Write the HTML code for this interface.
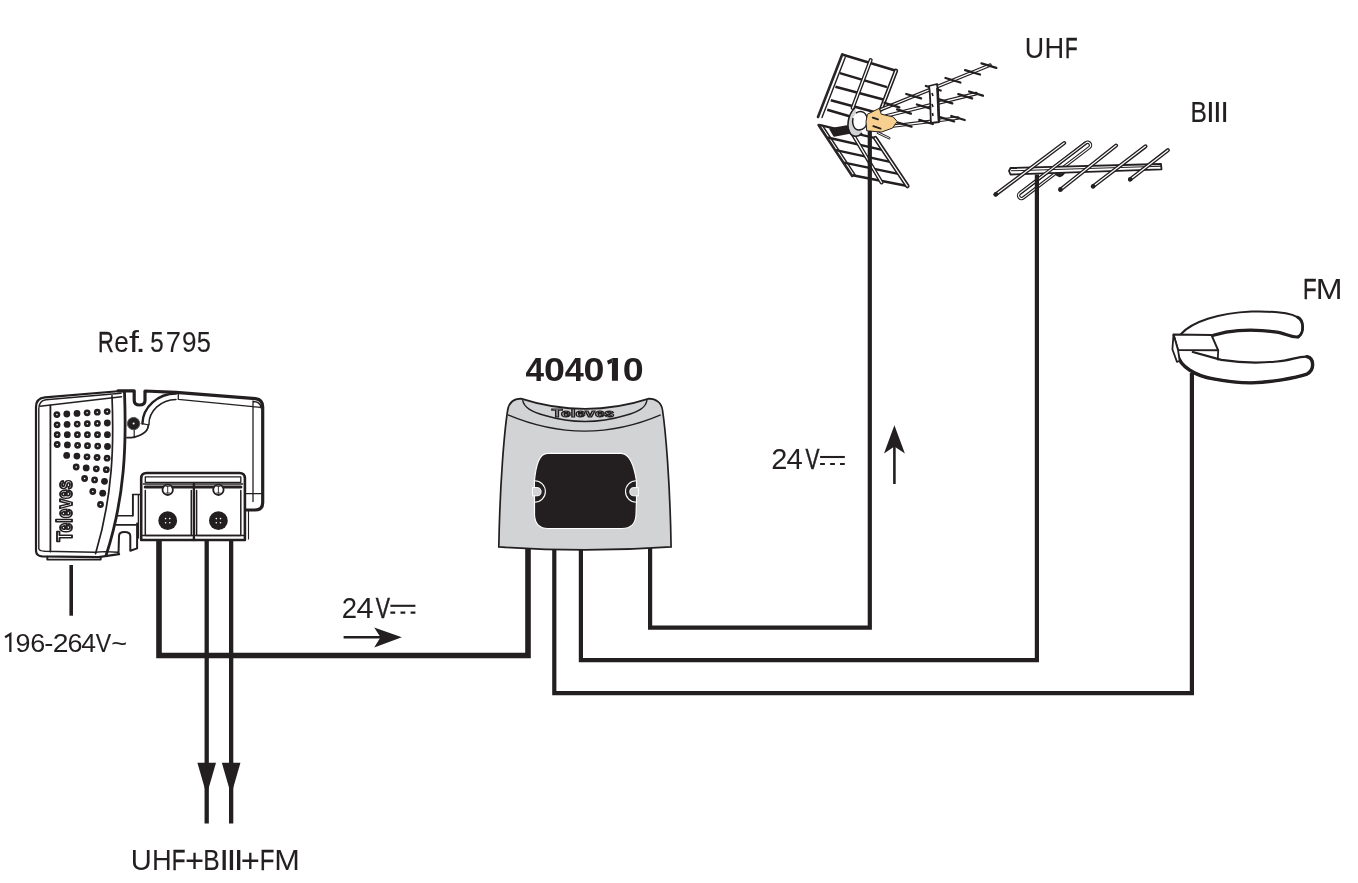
<!DOCTYPE html>
<html><head><meta charset="utf-8"><style>
html,body{margin:0;padding:0;background:#fff;width:1358px;height:883px;overflow:hidden}
svg{display:block;filter:blur(0.4px)}
text{font-family:"Liberation Sans",sans-serif;fill:#231f20}
</style></head><body>
<svg width="1358" height="883" viewBox="0 0 1358 883">


<g id="amp5795" fill="none" stroke="#231f20" stroke-linejoin="round" stroke-linecap="round">
  <!-- left front panel -->
  <path d="M125 391.2 L121 391 L45 397.3 Q36 398.3 36 407 V551 Q36.3 556 42 556.4 L98.5 557.1 L119.1 554.1" stroke-width="2.2"/>
  <path d="M121 393.2 L46 399.8 Q38.8 400.8 38.8 409 V548.5 Q39 551 45 551.3 L94.8 552.3 L104.4 551.6 L118.4 552.3" stroke-width="1.4"/>
  <path d="M40 406.3 L121.5 396.8" stroke-width="1.5"/>
  <path d="M50.4 405.5 V551.5" stroke-width="1.8"/>
  <path d="M112 395.8 C114 445 113 495 95.6 553.6" stroke-width="1.7"/>
  <path d="M124.5 392 C126.5 445 125 497 106.2 555" stroke-width="2.8"/>
  <path d="M47.3 556.6 V559.6 H100.7 V557" stroke-width="1.9"/>
  
  <!-- bracket / foot at bottom of body -->
  <path d="M118.5 553.4 L119 536 Q119 532 124.4 532 Q130.3 532 130.3 536 V550.7 L137.1 548.4 V523.5" stroke-width="2"/>
  <path d="M116.3 524.9 H135.7 M117.6 515.8 H133 V494.5 H143" stroke-width="1.6"/>
  <!-- right body top -->
  <path d="M118 390.8 H134.2 V400.5 Q134.2 405 139.6 405 Q145 405 145 400.5 V391 L176 392.3 L255.5 398.6 Q262.7 399.6 262.7 407 V502.8 Q262.7 510 255 510 H245" stroke-width="3.2"/>
  <path d="M178.3 393.5 V399.4 L261 407.4 M253 401 V501.5 M253 401.5 Q260.5 401.5 261 408" stroke-width="1.3"/>
  
  <path d="M243.1 493.7 H262" stroke-width="1.3"/>
  <path d="M248.5 510 V539" stroke-width="1.1"/>
  <!-- arc feature -->
  <path d="M142.4 423.6 A34 31 0 0 1 176 393.5" stroke-width="2.4"/>
  <path d="M148.9 424.4 A27.5 25 0 0 1 176 399.4" stroke-width="1.5"/>
  <path d="M142.4 423.6 L148.9 425" stroke-width="1.2"/>
  <path d="M148.3 425.4 A21 12.5 0 0 1 127 437.7" stroke-width="1.8"/>
  <path d="M134.2 429.5 V437.7" stroke-width="1.2"/>
  <circle cx="133.6" cy="423.6" r="6.2" fill="#231f20" stroke="#555" stroke-width="1"/>
  <circle cx="133.6" cy="423.6" r="1" fill="#fff" stroke="none"/>
  <!-- connector box -->
  <path d="M141.2 540 V478.5 Q141.2 473 146.7 473 H239.4 Q244.9 473 244.9 478.5 V540 Z" fill="#fff" stroke-width="2.6"/>
  <path d="M145.3 482.4 V476.8 H240.8 V482.4 Z" stroke-width="1.3"/>
  <path d="M143.3 484 H242.6" stroke-width="1.4"/>
  <path d="M145.3 487 H240.8" stroke-width="3.2"/>
  <path d="M145.3 490.6 V535.4 H191.3 V490.6" stroke-width="1.5"/>
  <path d="M196.6 490.6 V535.4 H240.8 V490.6" stroke-width="1.5"/>
  <path d="M193.9 484 V540" stroke-width="2.4"/>
  <path d="M141.2 535.4 H244.9" stroke-width="1.5"/>
  <path d="M138.4 495 V538" stroke-width="1.4"/>
  <path d="M132.6 494.5 V515.8" stroke-width="1.3"/>
  <circle cx="167.7" cy="489.8" r="5.2" fill="#fff" stroke-width="1.8"/>
  <circle cx="218.4" cy="489.8" r="5.2" fill="#fff" stroke-width="1.8"/>
  <path d="M167.7 486.3 V493 M166 486.3 H169.4 M166 493 H169.4 M218.4 486.3 V493 M216.7 486.3 H220.1 M216.7 493 H220.1" stroke-width="0.9"/>
  <circle cx="167.7" cy="520.7" r="9.4" fill="#231f20" stroke="none"/>
  <circle cx="218.4" cy="520.7" r="9.4" fill="#231f20" stroke="none"/>
  <g fill="#fff" stroke="none">
    <circle cx="165.6" cy="518.6" r="0.8"/><circle cx="169.8" cy="518.6" r="0.8"/><circle cx="165.6" cy="522.8" r="0.8"/><circle cx="169.8" cy="522.8" r="0.8"/>
    <circle cx="216.3" cy="518.6" r="0.8"/><circle cx="220.5" cy="518.6" r="0.8"/><circle cx="216.3" cy="522.8" r="0.8"/><circle cx="220.5" cy="522.8" r="0.8"/>
  </g>
  <!-- Televes vertical logo -->
  <text transform="translate(71.6 541.8) rotate(-90)" x="0" y="0" font-size="22.5" font-weight="bold" textLength="62" lengthAdjust="spacingAndGlyphs" style="fill:#fff;stroke:#231f20;stroke-width:1.9">Televes</text>
  <g fill="#231f20" stroke="none">
    <circle cx="56.9" cy="414.6" r="3.4"/>
    <circle cx="56.9" cy="414.6" r="0.8" fill="#fff"/>
    <circle cx="66.8" cy="414.0" r="3.4"/>
    <circle cx="77.0" cy="413.4" r="3.4"/>
    <circle cx="87.1" cy="412.8" r="3.4"/>
    <circle cx="87.1" cy="412.8" r="0.8" fill="#fff"/>
    <circle cx="97.3" cy="412.2" r="3.4"/>
    <circle cx="97.3" cy="412.2" r="0.8" fill="#fff"/>
    <circle cx="107.2" cy="411.6" r="3.4"/>
    <circle cx="107.2" cy="411.6" r="0.8" fill="#fff"/>
    <circle cx="57.1" cy="424.8" r="3.4"/>
    <circle cx="57.1" cy="424.8" r="0.8" fill="#fff"/>
    <circle cx="67.1" cy="424.4" r="3.4"/>
    <circle cx="77.2" cy="424.1" r="3.4"/>
    <circle cx="77.2" cy="424.1" r="0.8" fill="#fff"/>
    <circle cx="87.3" cy="423.7" r="3.4"/>
    <circle cx="87.3" cy="423.7" r="0.8" fill="#fff"/>
    <circle cx="97.4" cy="423.4" r="3.4"/>
    <circle cx="97.4" cy="423.4" r="0.8" fill="#fff"/>
    <circle cx="107.3" cy="423.0" r="3.4"/>
    <circle cx="57.2" cy="434.7" r="3.4"/>
    <circle cx="57.2" cy="434.7" r="0.8" fill="#fff"/>
    <circle cx="67.3" cy="434.7" r="3.4"/>
    <circle cx="77.4" cy="434.7" r="3.4"/>
    <circle cx="77.4" cy="434.7" r="0.8" fill="#fff"/>
    <circle cx="87.4" cy="434.7" r="3.4"/>
    <circle cx="87.4" cy="434.7" r="0.8" fill="#fff"/>
    <circle cx="97.5" cy="434.7" r="3.4"/>
    <circle cx="97.5" cy="434.7" r="0.8" fill="#fff"/>
    <circle cx="107.4" cy="434.7" r="3.4"/>
    <circle cx="57.2" cy="444.5" r="3.4"/>
    <circle cx="57.2" cy="444.5" r="0.8" fill="#fff"/>
    <circle cx="67.4" cy="444.9" r="3.4"/>
    <circle cx="77.6" cy="445.3" r="3.4"/>
    <circle cx="77.6" cy="445.3" r="0.8" fill="#fff"/>
    <circle cx="87.5" cy="445.7" r="3.4"/>
    <circle cx="87.5" cy="445.7" r="0.8" fill="#fff"/>
    <circle cx="97.7" cy="446.1" r="3.4"/>
    <circle cx="97.7" cy="446.1" r="0.8" fill="#fff"/>
    <circle cx="107.5" cy="446.5" r="3.4"/>
    <circle cx="66.7" cy="455.4" r="3.4"/>
    <circle cx="76.9" cy="456.1" r="3.4"/>
    <circle cx="87.0" cy="456.8" r="3.4"/>
    <circle cx="87.0" cy="456.8" r="0.8" fill="#fff"/>
    <circle cx="97.1" cy="457.5" r="3.4"/>
    <circle cx="97.1" cy="457.5" r="0.8" fill="#fff"/>
    <circle cx="107.1" cy="458.2" r="3.4"/>
    <circle cx="107.1" cy="458.2" r="0.8" fill="#fff"/>
    <circle cx="76.2" cy="467.0" r="3.4"/>
    <circle cx="76.2" cy="467.0" r="0.8" fill="#fff"/>
    <circle cx="86.2" cy="467.9" r="3.4"/>
    <circle cx="96.3" cy="468.8" r="3.4"/>
    <circle cx="96.3" cy="468.8" r="0.8" fill="#fff"/>
    <circle cx="106.3" cy="469.7" r="3.4"/>
    <circle cx="106.3" cy="469.7" r="0.8" fill="#fff"/>
    <circle cx="84.6" cy="478.5" r="3.4"/>
    <circle cx="84.6" cy="478.5" r="0.8" fill="#fff"/>
    <circle cx="94.6" cy="479.9" r="3.4"/>
    <circle cx="94.6" cy="479.9" r="0.8" fill="#fff"/>
    <circle cx="104.5" cy="481.3" r="3.4"/>
    <circle cx="92.8" cy="491.5" r="3.4"/>
    <circle cx="92.8" cy="491.5" r="0.8" fill="#fff"/>
    <circle cx="102.7" cy="493.2" r="3.4"/>
    <circle cx="100.5" cy="504.5" r="3.4"/>
    <circle cx="100.5" cy="504.5" r="0.8" fill="#fff"/>
  </g>
</g>
<g id="dev404010">
  <path d="M507.7 410 C509 402.5 514 398.6 521 398.6 Q585 419.2 649 398.6 C656 398.6 661.5 403 662.5 410 C665.5 430 670 480 671.1 546.9 Q585 553 498.8 546.9 C500 480 504.5 430 507.7 410 Z" fill="#d1d3d4" stroke="#231f20" stroke-width="1.7"/>
  <path d="M522.6 400.2 C524 407 530 411.5 545 415.5 Q585 427.5 625 415.5 C640 411.5 646 407 647 400" fill="none" stroke="#231f20" stroke-width="1.4"/>
  <path d="M508 414.9 Q585 447.3 660.7 414.9" fill="none" stroke="#231f20" stroke-width="1.4"/>
  <path d="M547.8 453.4 H621 C630 453.4 634 465 636.5 481 V500 L636 515 C635.5 524 630 528.5 622 528.5 H548 C540 528.5 535 524 534.5 515 V500 L534.4 481 C536 465 539 453.4 547.8 453.4 Z" fill="#231f20" stroke="#fff" stroke-width="1.2"/>
  <path d="M534.6 480.7 A10.8 10.8 0 0 1 534.6 502.3" fill="none" stroke="#fff" stroke-width="1.1"/>
  <path d="M636.3 480.7 A10.8 10.8 0 0 0 636.3 502.3" fill="none" stroke="#fff" stroke-width="1.1"/>
  <path d="M532.5 487.6 H537 A4.1 4.1 0 0 1 537 495.8 H532.5 Z" fill="#d1d3d4" stroke="#fff" stroke-width="1"/>
  <path d="M638.4 487.6 H633.9 A4.1 4.1 0 0 0 633.9 495.8 H638.4 Z" fill="#d1d3d4" stroke="#fff" stroke-width="1"/>
  <text x="551.8" y="417.3" font-size="11.5" font-weight="bold" textLength="62.5" lengthAdjust="spacingAndGlyphs" style="fill:#f2f2f2;stroke:#231f20;stroke-width:1.1">Televes</text>
</g>

<g id="uhf" fill="none" stroke-linejoin="round">
  <g stroke="#231f20">
    <path d="M839.9 73.1 L887 87.1 M835.4 86.7 L884.3 99.8 M830.8 100.3 L880 113.5 M827.2 109.8 L852 117" stroke-width="2.5"/>
    <path d="M843 54.8 L896 70.8" stroke-width="2.5"/>
  </g>
  <path d="M842.3 54.3 L818 117" stroke="#2a2627" stroke-width="2.6" stroke-linecap="round"/>
  <path d="M845.2 57.5 L822 117.5" stroke="#231f20" stroke-width="1.4" stroke-linecap="round"/>
  <path d="M896 70.8 L881 109.5" stroke="#231f20" stroke-width="4.4" stroke-linecap="round"/><path d="M896 70.8 L881 109.5" stroke="#fff" stroke-width="1.2" stroke-linecap="round"/>
  <path d="M870.7 60 L852.6 108" stroke="#231f20" stroke-width="4.0" stroke-linecap="round"/><path d="M870.7 60 L852.6 108" stroke="#fff" stroke-width="1.3" stroke-linecap="round"/>
  <path d="M819.1 124.9 L875.2 138.1 M827.5 137.5 L883.2 150.1 M835.9 150.1 L891.3 162.1 M844.2 162.6 L899.4 174.1 M852.6 175.2 L907.4 186.1 " stroke="#231f20" stroke-width="2.5"/>
  <path d="M818.6 125 L852.2 176" stroke="#2a2627" stroke-width="2.6" stroke-linecap="round"/>
  <path d="M822.5 125.5 L855 174.6" stroke="#231f20" stroke-width="1.4" stroke-linecap="round"/>
  <path d="M875.2 138.1 L907.4 186.1" stroke="#231f20" stroke-width="4.4" stroke-linecap="round"/><path d="M875.2 138.1 L907.4 186.1" stroke="#fff" stroke-width="1.2" stroke-linecap="round"/>
  <path d="M853.5 135.4 L881.6 182.5" stroke="#231f20" stroke-width="4.0" stroke-linecap="round"/><path d="M853.5 135.4 L881.6 182.5" stroke="#fff" stroke-width="1.3" stroke-linecap="round"/>
  <path d="M881 109.5 L990 65.2" stroke="#231f20" stroke-width="3.6" stroke-linecap="round"/><path d="M881 109.5 L990 65.2" stroke="#fff" stroke-width="1.3" stroke-linecap="round"/><path d="M886 116 L976 93.6" stroke="#231f20" stroke-width="3.8" stroke-linecap="round"/><path d="M886 116 L976 93.6" stroke="#fff" stroke-width="1.3" stroke-linecap="round"/><path d="M887 126.8 L958 118" stroke="#231f20" stroke-width="3.4" stroke-linecap="round"/><path d="M887 126.8 L958 118" stroke="#fff" stroke-width="1.3" stroke-linecap="round"/>
  <path d="M884.5 102.8 L899.3 107.3" stroke="#231f20" stroke-width="2.3" stroke-linecap="round"/><path d="M906.3 94.0 L921.1 98.4" stroke="#231f20" stroke-width="2.3" stroke-linecap="round"/><path d="M925.9 86.0 L940.7 90.5" stroke="#231f20" stroke-width="2.3" stroke-linecap="round"/><path d="M945.5 78.0 L960.4 82.5" stroke="#231f20" stroke-width="2.3" stroke-linecap="round"/><path d="M965.1 70.1 L980.0 74.5" stroke="#231f20" stroke-width="2.3" stroke-linecap="round"/><path d="M981.5 63.4 L996.3 67.9" stroke="#231f20" stroke-width="2.3" stroke-linecap="round"/><path d="M897.1 109.4 L910.9 113.6" stroke="#231f20" stroke-width="2.3" stroke-linecap="round"/><path d="M916.9 104.5 L930.7 108.7" stroke="#231f20" stroke-width="2.3" stroke-linecap="round"/><path d="M938.5 99.1 L952.3 103.3" stroke="#231f20" stroke-width="2.3" stroke-linecap="round"/><path d="M958.3 94.2 L972.1 98.4" stroke="#231f20" stroke-width="2.3" stroke-linecap="round"/><path d="M969.1 91.5 L982.9 95.7" stroke="#231f20" stroke-width="2.3" stroke-linecap="round"/><path d="M898.0 122.6 L911.5 126.6" stroke="#231f20" stroke-width="2.3" stroke-linecap="round"/><path d="M919.3 119.9 L932.8 124.0" stroke="#231f20" stroke-width="2.3" stroke-linecap="round"/><path d="M940.6 117.3 L954.1 121.3" stroke="#231f20" stroke-width="2.3" stroke-linecap="round"/><path d="M951.3 116.0 L964.7 120.0" stroke="#231f20" stroke-width="2.3" stroke-linecap="round"/>
  <path d="M929 86 C931 98 930 112 931 123 L939 122 C938 110 939 96 937 84 Z" fill="#fff" stroke="#231f20" stroke-width="1.8"/>
  <path d="M937.5 88 L939 121" stroke="#231f20" stroke-width="2.6"/>
  <path d="M932 93 L933 96 M932 104 L933 107 M932.5 113 L933 116" stroke="#231f20" stroke-width="1.6"/>
  <path d="M855 108 C850 112 846 122 849 132 C852 137 858 138 862 133" fill="#d1d3d4" stroke="#231f20" stroke-width="1.6"/>
  <path d="M856 113 C861 110 866 112 867 118 C868 125 865 130 858 130 C853 129 852 122 853 118" fill="#fff" stroke="#231f20" stroke-width="1.5"/>
  <path d="M830 129 L847 126 L850 133 L834 136 Z" fill="#231f20" stroke="#231f20" stroke-width="1.5"/>
  <path d="M867.4 114.2 L879.3 108.3 L881.3 114.2 L893.2 116.9 L897.2 121.5 L892.5 128.1 L881.3 132.1 L866.7 130.8 L866 121.5 Z" fill="#f7cf8e" stroke="#231f20" stroke-width="1"/>
  <path d="M872.7 117.6 L878 119.4 M873.3 126.2 L880.6 128.6" stroke="#231f20" stroke-width="1.8" stroke-linecap="round"/>
  <path d="M878 132.8 L889.2 138.1" stroke="#231f20" stroke-width="2.6" stroke-linecap="round"/><path d="M878 132.8 L889.2 138.1" stroke="#fff" stroke-width="0.9" stroke-linecap="round"/>
</g>

<g id="biii" fill="none" stroke-linejoin="round">
  <path d="M1023.3 197.9 L1089.4 147.5 A2.9 2.9 0 0 0 1085.8 142.9 L1019.7 193.3 A2.9 2.9 0 0 0 1023.3 197.9 Z" stroke="#231f20" stroke-width="3.4"/>
  <path d="M1023.3 197.9 L1089.4 147.5 A2.9 2.9 0 0 0 1085.8 142.9 L1019.7 193.3 A2.9 2.9 0 0 0 1023.3 197.9 Z" stroke="#fff" stroke-width="1.1"/>
  <path d="M1010.5 168 L1161 164 L1161.5 169.4 L1010.5 174.5 L1009 171 Z" fill="#fff" stroke="#231f20" stroke-width="1.8"/>
  <path d="M1011 170.8 L1161 166.2" stroke="#231f20" stroke-width="1.1"/>
  <path d="M1055.5 173.6 Q1060 179 1064.2 173" fill="#231f20" stroke="#231f20" stroke-width="2"/>
  <path d="M1085.8 142.9 L1019.7 193.3" stroke="#231f20" stroke-width="3.4"/>
  <path d="M1085.8 142.9 L1019.7 193.3" stroke="#fff" stroke-width="1.1"/>
  <path d="M995.5 194.6 L1064.2 143" stroke="#231f20" stroke-width="4" stroke-linecap="round"/><path d="M995.5 194.6 L1064.2 143" stroke="#fff" stroke-width="1.20" stroke-linecap="round"/>
  <path d="M1060.3 189.7 L1116.1 145.5" stroke="#231f20" stroke-width="4" stroke-linecap="round"/><path d="M1060.3 189.7 L1116.1 145.5" stroke="#fff" stroke-width="1.20" stroke-linecap="round"/>
  <path d="M1092.9 186.5 L1145.5 146.3" stroke="#231f20" stroke-width="4" stroke-linecap="round"/><path d="M1092.9 186.5 L1145.5 146.3" stroke="#fff" stroke-width="1.20" stroke-linecap="round"/>
  <path d="M1130 179.5 L1167.9 150.2" stroke="#231f20" stroke-width="4" stroke-linecap="round"/><path d="M1130 179.5 L1167.9 150.2" stroke="#fff" stroke-width="1.20" stroke-linecap="round"/>
  <g fill="#231f20">
    <circle cx="995.9" cy="194.3" r="2.3"/><circle cx="1060.5" cy="189.4" r="2.3"/><circle cx="1093.2" cy="186.2" r="2.3"/><circle cx="1130.3" cy="179.2" r="2.3"/>
  </g>
</g>
<g id="fm" stroke="#231f20" stroke-linejoin="round" stroke-linecap="round">
  <path d="M1181 334 C1192 322 1218 313 1251.5 311.5 C1272 311 1290 313 1297.4 317.1 C1304 320 1304.5 333 1298.2 336.9 C1292 338 1284 333 1276.8 332.1 C1262 330 1245 329 1226 332.1 L1213.4 335.3" fill="#fff" stroke-width="2"/>
  <path d="M1298.2 336.9 C1292 338 1284 333 1276.8 332.1 C1262 330 1245 329 1226 332.1 L1213.4 335.3" fill="none" stroke-width="3.2"/>
  <path d="M1297.4 317.1 C1304 320 1304.5 333 1298.2 336.9" fill="none" stroke-width="2.8"/>
  <path d="M1177.7 355.1 C1180 366 1195 376 1213.4 378.9 C1230 382 1245 383 1251.5 382.9 C1270 382.5 1295 378 1307 374.1 C1315 370 1314 358 1307 356.7 C1298 356 1290 361 1276.8 361.5 C1262 363 1245 363.5 1221.3 359.9 L1192.8 352" fill="#fff" stroke-width="2.2"/>
  <path d="M1177.7 355.1 C1180 366 1195 376 1213.4 378.9 C1230 382 1245 383 1251.5 382.9 C1270 382.5 1295 378 1307 374.1 C1315 370 1314 358 1307 356.7" fill="none" stroke-width="3.4"/>
  <path d="M1173.5 334.6 L1211.4 334.9 L1218.2 350.3 L1178 349.9 Z" fill="#fff" stroke-width="2"/>
  <path d="M1173.5 334.6 L1172.4 349.3 L1176.9 361.8 L1179.7 361 L1178 349.9 Z" fill="#fff" stroke-width="1.8"/>
  <path d="M1218.2 350.3 L1217.8 359.5" fill="none" stroke-width="1.8"/>
</g>
<g id="wires" fill="none" stroke="#231f20" stroke-linejoin="miter" stroke-linecap="butt">
  <path d="M159 541 V655.55 H528 V548" stroke-width="5.6"/>
  <path d="M554.3 550 V693.2 H1191.9 V373" stroke-width="4.2"/>
  <path d="M580.9 550 V660.1 H1036.9 V174.5" stroke-width="4.2"/>
  <path d="M650.1 548 V627.7 H869.8 V131" stroke-width="4.2"/>
  <path d="M206.7 540 V823.4" stroke-width="4.3"/>
  <path d="M231.15 540 V823.4" stroke-width="4.3"/>
  <path d="M71.2 565 V615.7" stroke-width="3.6"/>
  <path d="M343.6 637.3 H382" stroke-width="2.6"/>
  <path d="M894.4 484 V446" stroke-width="2.6"/>
</g>
<g id="arrowheads" fill="#231f20">
  <path d="M197.4 762.7 H216 L206.7 795 Z"/>
  <path d="M221.85 762.7 H240.45 L231.15 795 Z"/>
  <path d="M401.8 637.2 L374.2 627.6 L380.5 637.2 L374.2 647.4 Z"/>
  <path d="M894.4 425.3 L884 453.6 L894.4 446.5 L904.9 453.6 Z"/>
</g>
<g id="dc" fill="none" stroke="#231f20" stroke-width="2.1">
  <path d="M390.4 605.8 H415.4"/>
  <path d="M390.4 612.6 H395.2 M400.5 612.6 H405.3 M410.6 612.6 H415.4"/>
  <path d="M820.1 457 H844.8"/>
  <path d="M820.1 464 H824.9 M830.1 464 H834.9 M840 464 H844.8"/>
</g>
<g id="labels">
  <text transform="translate(98.00 351.60) scale(0.741 1)" font-size="29.43" style="stroke:#231f20;stroke-width:0.41">R</text>
  <text transform="translate(114.23 351.60) scale(0.892 1)" font-size="29.43" style="stroke:#231f20;stroke-width:0.09">e</text>
  <text transform="translate(128.99 351.60) scale(1.217 1)" font-size="29.43">f</text>
  <text transform="translate(135.06 351.60) scale(1.356 1)" font-size="29.43">.</text>
  <text transform="translate(150.18 351.60) scale(0.817 1)" font-size="29.43" style="stroke:#231f20;stroke-width:0.23">5</text>
  <text transform="translate(165.66 351.60) scale(0.929 1)" font-size="29.43">7</text>
  <text transform="translate(181.90 351.60) scale(0.887 1)" font-size="29.43" style="stroke:#231f20;stroke-width:0.10">9</text>
  <text transform="translate(196.76 351.60) scale(0.862 1)" font-size="29.43" style="stroke:#231f20;stroke-width:0.15">5</text>
  <text transform="translate(525.62 380.80) scale(1.008 1)" font-size="33.15" font-weight="bold">4</text>
  <text transform="translate(543.96 380.80) scale(1.136 1)" font-size="33.15" font-weight="bold">0</text>
  <text transform="translate(564.72 380.80) scale(1.035 1)" font-size="33.15" font-weight="bold">4</text>
  <text transform="translate(583.54 380.80) scale(1.136 1)" font-size="33.15" font-weight="bold">0</text>
  <path d="M611.94 380.8 V358.1 H617.95 V380.8 Z M612.2 358.2 L607 360.8 L608.2 364.5 L612.2 362.8 Z" fill="#231f20"/>
  <text transform="translate(622.66 380.80) scale(1.135 1)" font-size="33.15" font-weight="bold">0</text>
  <path d="M10.34 651.90 V634.00 L5.09 637.26" fill="none" stroke="#231f20" stroke-width="2.3" stroke-linejoin="miter"/>
  <text transform="translate(15.49 651.90) scale(1.028 1)" font-size="26.21">9</text>
  <text transform="translate(30.22 651.90) scale(1.029 1)" font-size="26.21">6</text>
  <text transform="translate(44.25 651.90) scale(1.047 1)" font-size="26.21">-</text>
  <text transform="translate(52.66 651.90) scale(1.082 1)" font-size="26.21">2</text>
  <text transform="translate(67.56 651.90) scale(1.029 1)" font-size="26.21">6</text>
  <text transform="translate(81.24 651.90) scale(1.015 1)" font-size="26.21">4</text>
  <text transform="translate(95.68 651.90) scale(0.882 1)" font-size="26.21" style="stroke:#231f20;stroke-width:0.11">V</text>
  <text transform="translate(111.26 651.90) scale(1.035 1)" font-size="26.21">~</text>
  <text transform="translate(341.87 618.00) scale(0.932 1)" font-size="29.50">2</text>
  <text transform="translate(356.55 618.00) scale(1.039 1)" font-size="29.50">4</text>
  <text transform="translate(375.72 618.00) scale(0.722 1)" font-size="29.50" style="stroke:#231f20;stroke-width:0.47">V</text>
  <text transform="translate(771.26 468.90) scale(0.982 1)" font-size="29.50">2</text>
  <text transform="translate(786.43 468.90) scale(0.991 1)" font-size="29.50">4</text>
  <text transform="translate(805.45 468.90) scale(0.710 1)" font-size="29.50" style="stroke:#231f20;stroke-width:0.50">V</text>
  <text transform="translate(130.70 869.60) scale(0.984 1)" font-size="29.65">U</text>
  <text transform="translate(151.92 869.60) scale(0.921 1)" font-size="29.65">H</text>
  <text transform="translate(171.67 869.60) scale(0.759 1)" font-size="29.65" style="stroke:#231f20;stroke-width:0.36">F</text>
  <text transform="translate(185.04 872.46) scale(1.104 1.097)" font-size="29.65">+</text>
  <text transform="translate(203.27 869.60) scale(0.828 1)" font-size="29.65" style="stroke:#231f20;stroke-width:0.21">B</text>
  <text transform="translate(219.15 869.60) scale(1.197 1)" font-size="29.65">I</text>
  <text transform="translate(226.44 869.60) scale(1.197 1)" font-size="29.65">I</text>
  <text transform="translate(233.73 869.60) scale(1.197 1)" font-size="29.65">I</text>
  <text transform="translate(240.71 872.46) scale(1.104 1.097)" font-size="29.65">+</text>
  <text transform="translate(259.66 869.60) scale(0.809 1)" font-size="29.65" style="stroke:#231f20;stroke-width:0.25">F</text>
  <text transform="translate(274.26 869.60) scale(1.036 1)" font-size="29.65">M</text>
  <text transform="translate(1024.67 58.00) scale(0.895 1)" font-size="29.94" style="stroke:#231f20;stroke-width:0.09">U</text>
  <text transform="translate(1044.59 58.00) scale(0.911 1)" font-size="29.94" style="stroke:#231f20;stroke-width:0.06">H</text>
  <text transform="translate(1064.89 58.00) scale(0.692 1)" font-size="29.94" style="stroke:#231f20;stroke-width:0.54">F</text>
  <text transform="translate(1190.44 121.90) scale(0.820 1)" font-size="29.94" style="stroke:#231f20;stroke-width:0.23">B</text>
  <text transform="translate(1206.01 121.90) scale(1.056 1)" font-size="29.94">I</text>
  <text transform="translate(1213.02 121.90) scale(1.053 1)" font-size="29.94">I</text>
  <text transform="translate(1220.20 121.90) scale(1.053 1)" font-size="29.94">I</text>
  <text transform="translate(1303.01 298.90) scale(0.749 1)" font-size="29.80" style="stroke:#231f20;stroke-width:0.39">F</text>
  <text transform="translate(1315.86 298.90) scale(1.079 1)" font-size="29.80">M</text>
</g>
</svg>
</body></html>
